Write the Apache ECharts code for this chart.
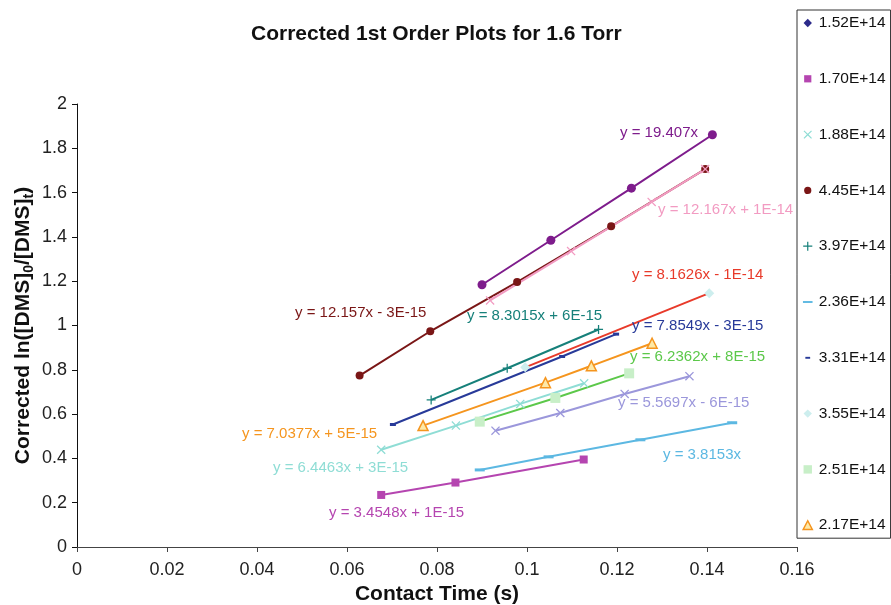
<!DOCTYPE html>
<html>
<head>
<meta charset="utf-8">
<script src="https://cdn.jsdelivr.net/npm/echarts@6/dist/echarts.min.js"></script>
<style>
  html, body { margin: 0; padding: 0; background: #fff; }
  #chart { width: 891px; height: 605px; }
</style>
</head>
<body>
<div id="chart"></div>
<script>
// ---------- DATA ----------
const legendNames = ['1.52E+14','1.70E+14','1.88E+14','4.45E+14','3.97E+14','2.36E+14','3.31E+14','3.55E+14','2.51E+14','2.17E+14'];

const s152 = [];  // not visible in the plot
const s170 = [[0.0676,0.235],[0.0841,0.291],[0.1126,0.395]];
const s188 = [[0.0676,0.439],[0.0842,0.548],[0.0985,0.646],[0.1127,0.739]];
const s445 = [[0.0628,0.774],[0.0785,0.974],[0.0978,1.196],[0.1187,1.448],[0.1396,1.706]];
const s397 = [[0.0787,0.664],[0.0956,0.807],[0.1159,0.982]];
const s236 = [[0.0895,0.348],[0.1048,0.407],[0.1252,0.484],[0.1456,0.561]];
const s331 = [[0.0702,0.553],[0.1078,0.860],[0.1198,0.961]];
const s355 = [[0.0996,0.811],[0.1405,1.146]];
const s251 = [[0.0895,0.566],[0.1063,0.673],[0.1227,0.784]];
const s217 = [[0.0769,0.548],[0.1041,0.742],[0.1143,0.818],[0.1278,0.920]];
const sPurple = [[0.0900,1.184],[0.1053,1.385],[0.1232,1.620],[0.1412,1.861]];
const sPink = [[0.0918,1.113],[0.1098,1.336],[0.1277,1.558],[0.1396,1.706]];
const sLavender = [[0.0930,0.525],[0.1074,0.605],[0.1217,0.691],[0.1361,0.771]];

const xTickLabels = ['0','0.02','0.04','0.06','0.08','0.1','0.12','0.14','0.16'];
const yTickLabels = ['0','0.2','0.4','0.6','0.8','1','1.2','1.4','1.6','1.8','2'];

const equations = ['y = 19.407x','y = 12.167x + 1E-14','y = 8.1626x - 1E-14','y = 12.157x - 3E-15',
  'y = 8.3015x + 6E-15','y = 7.8549x - 3E-15','y = 6.2362x + 8E-15','y = 5.5697x - 6E-15',
  'y = 7.0377x + 5E-15','y = 3.8153x','y = 6.4463x + 3E-15','y = 3.4548x + 1E-15'];

// ---------- STYLE / LAYOUT ----------
const FONT = '"Liberation Sans", Arial, Helvetica, sans-serif';
const C = {
  navy: '#2c2a8a', magenta: '#b545b0', lcyan: '#8fddd5', dred: '#7a1616', teal: '#16807a',
  sky: '#5cb8e2', blue: '#283a99', pcyan: '#cdeeee', red: '#e83a2a', pgreen: '#c8efc8',
  green: '#5cc84a', orange: '#f5951e', purple: '#7e1c8c', pink: '#f29bc2', lav: '#9b97db'
};
const XPATH = 'path://M0,1L1,0L5,4L9,0L10,1L6,5L10,9L9,10L5,6L1,10L0,9L4,5Z';
const PLUSPATH = 'path://M4.3,0H5.7V4.3H10V5.7H5.7V10H4.3V5.7H0V4.3H4.3Z';

const eqColors = [C.purple, C.pink, C.red, C.dred, C.teal, C.blue, C.green, C.lav, C.orange, C.sky, C.lcyan, C.magenta];
const eqPos = [[620,133],[658,210],[632,275],[295,313],[467,316],[632,326],[630,357],[618,403],[242,434],[663,455],[273,468],[329,513]];

const legendIcons = [
  'path://M0,0M10,10M5,1.5L8.5,5L5,8.5L1.5,5Z',
  'path://M0,0M10,10M2,2H8V8H2Z',
  'path://M0,0M10,10M1.5,2.2L2.2,1.5L5,4.3L7.8,1.5L8.5,2.2L5.7,5L8.5,7.8L7.8,8.5L5,5.7L2.2,8.5L1.5,7.8L4.3,5Z',
  'path://M0,0M10,10M5,2A3,3 0 1 1 4.99,2Z',
  'path://M0,0M10,10M4.5,1.2H5.5V4.5H8.8V5.5H5.5V8.8H4.5V5.5H1.2V4.5H4.5Z',
  'path://M0,0M10,10M1,4.2H9V5.8H1Z',
  'path://M0,0M10,10M3,4.2H7V5.8H3Z',
  'path://M0,0M10,10M5,1.5L8.5,5L5,8.5L1.5,5Z',
  'path://M0,0M10,10M1.5,1.5H8.5V8.5H1.5Z',
  'path://M0,0M10,10M5,1.3L8.8,8.5H1.2Z'
];
const legendStyles = [
  {color: C.navy}, {color: C.magenta}, {color: C.lcyan}, {color: C.dred}, {color: C.teal},
  {color: C.sky}, {color: C.blue}, {color: C.pcyan}, {color: C.pgreen},
  {color: '#fde9a8', borderColor: C.orange, borderWidth: 1.5}
];

function lineSeries(name, data, symbol, size, itemStyle, lineColor, z) {
  return {
    type: 'line', name, data, symbol, symbolSize: size, showSymbol: true,
    itemStyle, lineStyle: { color: lineColor, width: 2 }, z: z || 2,
    emphasis: { disabled: true }, animation: false, clip: false
  };
}

const series = [
  lineSeries('1.52E+14', s152, 'diamond', 8, {color: C.navy}, C.navy),
  lineSeries('3.55E+14', s355, 'diamond', 10, {color: C.pcyan}, C.red),
  lineSeries('2.51E+14', s251, 'rect', 10, {color: C.pgreen}, C.green),
  lineSeries('1.70E+14', s170, 'rect', 8, {color: C.magenta}, C.magenta),
  lineSeries('2.36E+14', s236, 'rect', [10,3], {color: C.sky}, C.sky),
  lineSeries('fit-lav', sLavender, XPATH, 9, {color: C.lav}, C.lav),
  lineSeries('1.88E+14', s188, XPATH, 9, {color: C.lcyan}, C.lcyan),
  lineSeries('2.17E+14', s217, 'triangle', 10, {color: '#fde9a8', borderColor: C.orange, borderWidth: 1.5}, C.orange),
  lineSeries('3.31E+14', s331, 'rect', [6,3], {color: C.blue}, C.blue),
  lineSeries('3.97E+14', s397, PLUSPATH, 9, {color: C.teal}, C.teal),
  lineSeries('4.45E+14', s445, 'circle', 8, {color: C.dred}, C.dred),
  lineSeries('fit-pink', sPink, XPATH, 9, {color: C.pink}, C.pink),
  lineSeries('fit-purple', sPurple, 'circle', 9, {color: C.purple}, C.purple)
];

const graphics = equations.map((t, i) => ({
  type: 'text', x: eqPos[i][0], y: eqPos[i][1], z: 50,
  style: { text: t, fill: eqColors[i], fontSize: 15, fontFamily: FONT, verticalAlign: 'middle', align: 'left' }
}));

const chart = echarts.init(document.getElementById('chart'), null, { renderer: 'canvas' });
chart.setOption({
  animation: false,
  backgroundColor: '#ffffff',
  title: {
    text: 'Corrected 1st Order Plots for 1.6 Torr',
    left: 251, top: 24, padding: 0,
    textStyle: { fontFamily: FONT, fontSize: 21, fontWeight: 'bold', color: '#111' }
  },
  grid: { left: 77, right: 94, top: 104, bottom: 58, containLabel: false, outerBoundsMode: 'none' },
  legend: {
    orient: 'vertical', left: 797, top: 10,
    padding: [5, 5, 5, 4],
    borderColor: '#333', borderWidth: 1, backgroundColor: '#fff',
    itemWidth: 12, itemHeight: 12, itemGap: 39.8,
    selectedMode: false,
    textStyle: { fontFamily: FONT, fontSize: 15.5, color: '#111', lineHeight: 16 },
    data: legendNames.map((n, i) => ({ name: n, icon: legendIcons[i], itemStyle: legendStyles[i] }))
  },
  xAxis: {
    type: 'value', min: 0, max: 0.16, interval: 0.02,
    name: 'Contact Time (s)', nameLocation: 'middle', nameGap: 37,
    nameTextStyle: { fontFamily: FONT, fontSize: 21, fontWeight: 'bold', color: '#111' },
    axisLine: { show: true, lineStyle: { color: '#444', width: 1 } },
    axisTick: { show: true, length: 5, lineStyle: { color: '#444' } },
    splitLine: { show: false },
    axisLabel: {
      fontFamily: FONT, fontSize: 18, color: '#222', margin: 14,
      formatter: v => xTickLabels[Math.round(v / 0.02)]
    }
  },
  yAxis: {
    type: 'value', min: 0, max: 2, interval: 0.2,
    name: '{a|Corrected ln([DMS]}{s|0}{a|/[DMS]}{s|t}{a|)}',
    nameLocation: 'middle', nameGap: 41, nameRotate: 90, nameMoveOverlap: false,
    nameTextStyle: {
      rich: {
        a: { fontFamily: FONT, fontSize: 21, fontWeight: 'bold', color: '#111', lineHeight: 26 },
        s: { fontFamily: FONT, fontSize: 14, fontWeight: 'bold', color: '#111', lineHeight: 12, verticalAlign: 'bottom' }
      }
    },
    axisLine: { show: true, lineStyle: { color: '#111', width: 1 } },
    axisTick: { show: true, length: 5, lineStyle: { color: '#111' } },
    splitLine: { show: false },
    axisLabel: {
      fontFamily: FONT, fontSize: 18, color: '#222', margin: 10,
      formatter: v => yTickLabels[Math.round(v / 0.2)]
    }
  },
  graphic: graphics,
  series
});
</script>
</body>
</html>
